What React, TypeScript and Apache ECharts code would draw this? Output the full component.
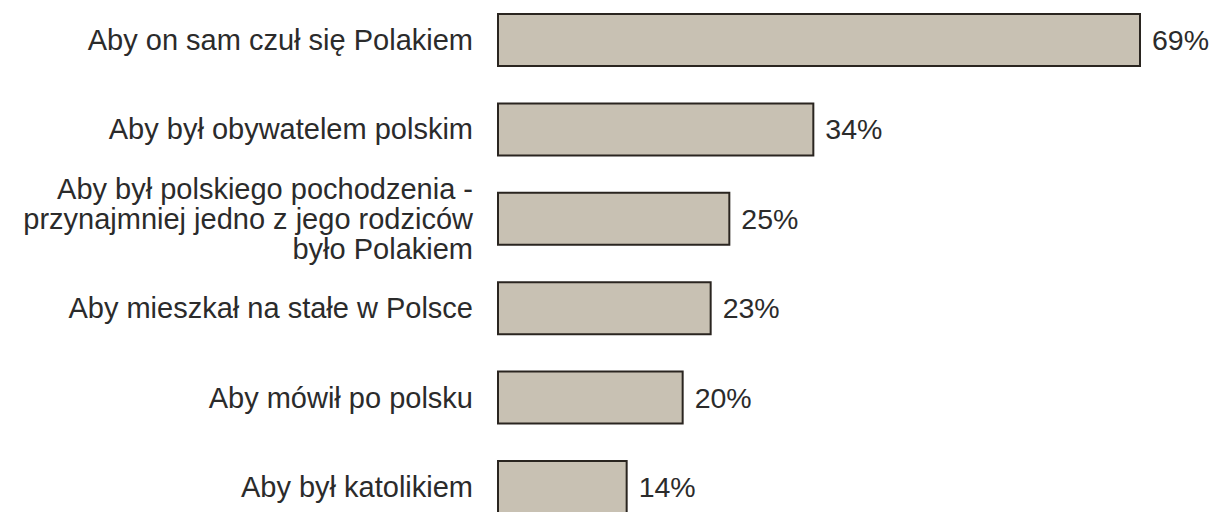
import React, { useEffect, useRef } from "react";
import * as echarts from "echarts";

const categories = [
  "Aby on sam czuł się Polakiem",
  "Aby był obywatelem polskim",
  "Aby był polskiego pochodzenia -\nprzynajmniej jedno z jego rodziców\nbyło Polakiem",
  "Aby mieszkał na stałe w Polsce",
  "Aby mówił po polsku",
  "Aby był katolikiem",
];
const values = [69, 34, 25, 23, 20, 14];

export default function App() {
  const ref = useRef<HTMLDivElement>(null);
  useEffect(() => {
    if (!ref.current) return;
    document.body.style.margin = "0";
    document.body.style.overflow = "hidden";
    const chart = echarts.init(ref.current, null, { renderer: "svg" });
    chart.setOption({
      animation: false,
      backgroundColor: "#ffffff",
      grid: { left: 497, right: 27, top: 25.3, bottom: 10.3, containLabel: false },
      xAxis: {
        type: "value",
        min: 0,
        max: 75,
        show: false,
        splitLine: { show: false },
      },
      yAxis: {
        type: "category",
        data: categories,
        inverse: true,
        axisLine: { show: false },
        axisTick: { show: false },
        axisLabel: {
          margin: 24,
          fontFamily: "Liberation Sans, Arial, sans-serif",
          fontSize: 29,
          lineHeight: 30,
          color: "#2b2b2b",
          align: "right",
        },
      },
      series: [
        {
          type: "bar",
          data: values,
          barWidth: 54,
          itemStyle: { color: "#c8c1b3", borderColor: "#2a2520", borderWidth: 2 },
          label: {
            show: true,
            position: "right",
            distance: 11,
            formatter: "{c}%",
            fontFamily: "Liberation Sans, Arial, sans-serif",
            fontSize: 28.5,
            color: "#2b2b2b",
          },
        },
      ],
    });
    return () => chart.dispose();
  }, []);
  return (
    <div
      style={{ position: "relative", width: 1224, height: 512, overflow: "hidden" }}
    >
      <div
        ref={ref}
        style={{ position: "absolute", left: 0, top: -30, width: 1224, height: 572 }}
      />
    </div>
  );
}
